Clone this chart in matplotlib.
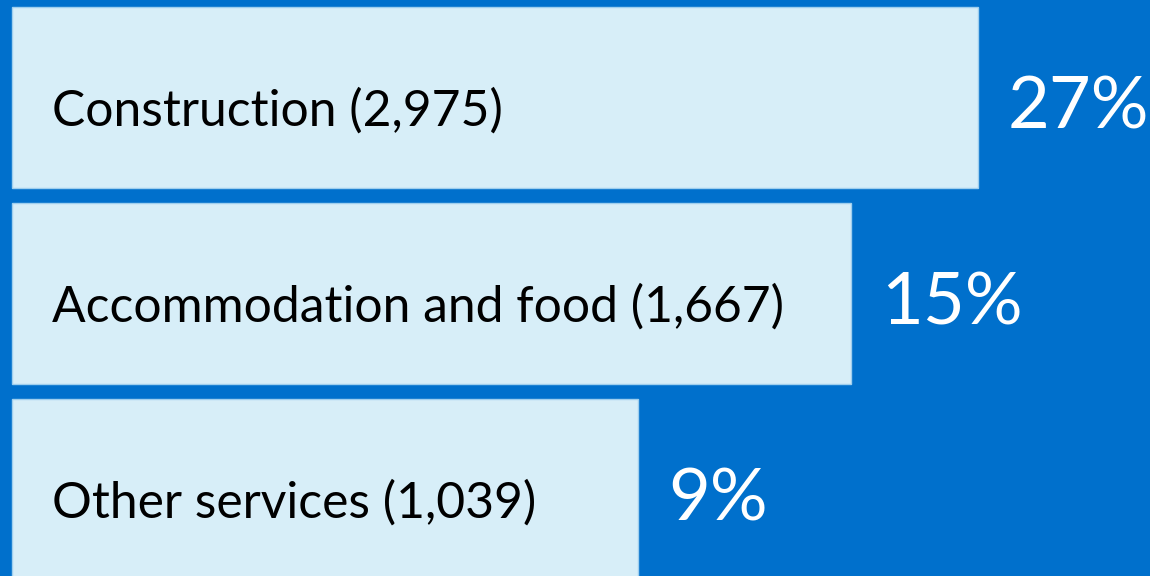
import matplotlib.pyplot as plt

# Data
categories = ["Construction", "Accommodation and food", "Other services"]
counts = [2975, 1667, 1039]
percents = [27, 15, 9]
bar_lengths = [966, 839, 626]  # bar extents as drawn (display units)

bg_color = "#0070CC"
bar_color = "#D7EEF8"

plt.rcParams['font.family'] = ['Lato', 'DejaVu Sans']

fig = plt.figure(figsize=(11.5, 5.76), dpi=100)
fig.patch.set_facecolor(bg_color)
ax = fig.add_axes([0, 0, 1, 1])
ax.set_facecolor(bg_color)

ypos = range(len(categories))
ax.barh(ypos, bar_lengths, height=0.92, left=0, color=bar_color,
        edgecolor="#9FCFEE", linewidth=1)

for y, cat, n, pct, w in zip(ypos, categories, counts, percents, bar_lengths):
    ax.text(40, y + 0.07, f"{cat} ({n:,})", va="center", ha="left",
            fontsize=35.8, color="black")
    ax.text(w + 30, y + 0.055, f"{pct}%", va="center", ha="left",
            fontsize=52, color="white")

ax.set_xlim(-12, 1138)
ax.set_ylim(2.441, -0.497)
ax.axis("off")

fig.savefig("out.png", dpi=100, facecolor=bg_color)
